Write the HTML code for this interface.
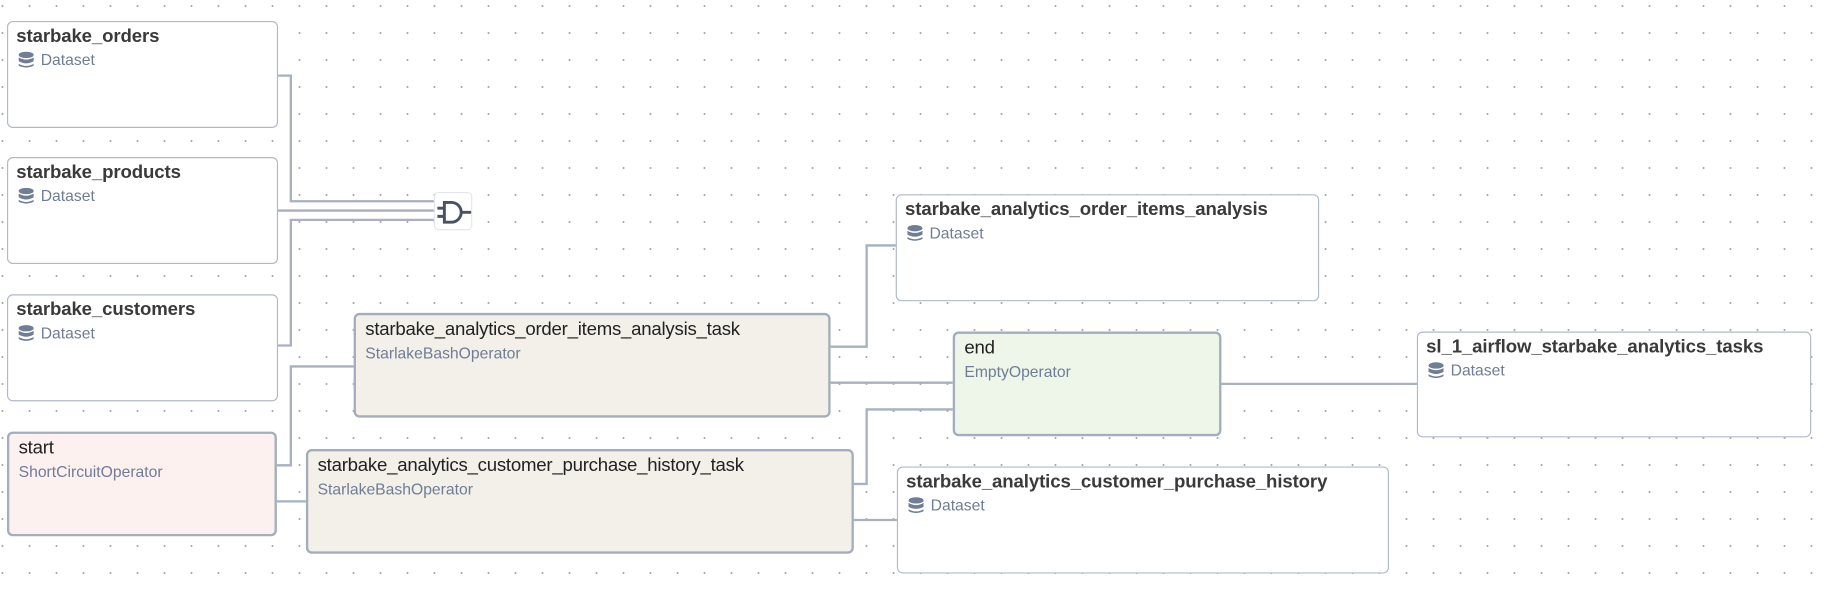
<!DOCTYPE html>
<html><head><meta charset="utf-8"><style>
html,body{margin:0;padding:0;}
body{width:1824px;height:592px;overflow:hidden;background-color:#fff;
background-image:radial-gradient(circle,#a9a9a9 0.8px,transparent 1.2px);
background-size:27px 27px;background-position:-11px -7.5px;position:relative;font-family:"Liberation Sans",Arial,sans-serif;}
#s{position:absolute;left:0;top:0;width:1568px;height:509px;transform:scale(1.16327);transform-origin:0 0;}
.n{position:absolute;box-sizing:border-box;border:1.5px solid #b0b9c9;border-radius:5px;background:#fff;padding:4px 7px;}
.n .t{font-size:16px;font-weight:bold;color:#3a3a3a;line-height:18px;white-space:nowrap;letter-spacing:-0.1px;}
.n .d{font-size:13.5px;color:#6f7d95;line-height:16px;margin-top:3px;white-space:nowrap;}
.n .d svg{vertical-align:-3px;margin:0 6px 0 2px;}
.k{border:2px solid #a3adbd;padding:4px 8px;}
.k .t{font-weight:normal;color:#222;font-size:16px;letter-spacing:-0.2px;}
svg.e{position:absolute;left:0;top:0;}
</style></head><body><div id="s">
<svg class="e" width="1568" height="509" fill="none" stroke="#a7b1c2" stroke-width="2">
<path d="M239 65H250V173H373"/>
<path d="M239 181H373"/>
<path d="M239 297H250V189H373"/>
<path d="M238 400H250V315H304"/>
<path d="M238 431H263"/>
<path d="M714 298H745V211H770"/>
<path d="M714 329H819"/>
<path d="M734 416H745V352H819"/>
<path d="M734 447H771"/>
<path d="M1050 330H1218"/>
</svg>
<div style="position:absolute;left:373px;top:165px;width:33px;height:33px;box-sizing:border-box;border:1px solid #e3e6ec;border-radius:4px;background:#fff">
<svg width="33" height="33" viewBox="0 0 33 33" fill="none" stroke="#4a5163" stroke-width="2.5"><path d="M8 8H14A8.5 8.5 0 0 1 14 25H8Z"/><path d="M2 13H8M2 20H8M22.5 16.5H31"/></svg></div>
<div class="n" style="left:6px;top:18px;width:233px;height:92px"><div class="t">starbake_orders</div><div class="d"><svg width="13" height="15" viewBox="0 0 12 13" fill="#6f7d95"><ellipse cx="6" cy="2.5" rx="6" ry="2.5"/><path d="M0 4.5Q6 8 12 4.5V7.5Q6 11 0 7.5Z"/><path d="M0 9.5Q6 13 12 9.5V11Q6 14 0 11Z"/></svg>Dataset</div></div>
<div class="n" style="left:6px;top:135px;width:233px;height:92px"><div class="t">starbake_products</div><div class="d"><svg width="13" height="15" viewBox="0 0 12 13" fill="#6f7d95"><ellipse cx="6" cy="2.5" rx="6" ry="2.5"/><path d="M0 4.5Q6 8 12 4.5V7.5Q6 11 0 7.5Z"/><path d="M0 9.5Q6 13 12 9.5V11Q6 14 0 11Z"/></svg>Dataset</div></div>
<div class="n" style="left:6px;top:253px;width:233px;height:92px"><div class="t">starbake_customers</div><div class="d"><svg width="13" height="15" viewBox="0 0 12 13" fill="#6f7d95"><ellipse cx="6" cy="2.5" rx="6" ry="2.5"/><path d="M0 4.5Q6 8 12 4.5V7.5Q6 11 0 7.5Z"/><path d="M0 9.5Q6 13 12 9.5V11Q6 14 0 11Z"/></svg>Dataset</div></div>
<div class="n k" style="left:6px;top:371px;width:232px;height:90px;background:#fcf1ef"><div class="t">start</div><div class="d">ShortCircuitOperator</div></div>
<div class="n k" style="left:304px;top:269px;width:410px;height:90px;background:#f3f0e9"><div class="t">starbake_analytics_order_items_analysis_task</div><div class="d">StarlakeBashOperator</div></div>
<div class="n k" style="left:263px;top:386px;width:471px;height:90px;background:#f3f0e9"><div class="t">starbake_analytics_customer_purchase_history_task</div><div class="d">StarlakeBashOperator</div></div>
<div class="n" style="left:770px;top:167px;width:364px;height:92px"><div class="t">starbake_analytics_order_items_analysis</div><div class="d"><svg width="13" height="15" viewBox="0 0 12 13" fill="#6f7d95"><ellipse cx="6" cy="2.5" rx="6" ry="2.5"/><path d="M0 4.5Q6 8 12 4.5V7.5Q6 11 0 7.5Z"/><path d="M0 9.5Q6 13 12 9.5V11Q6 14 0 11Z"/></svg>Dataset</div></div>
<div class="n k" style="left:819px;top:285px;width:231px;height:90px;background:#eef6ea"><div class="t">end</div><div class="d">EmptyOperator</div></div>
<div class="n" style="left:1218px;top:285px;width:339px;height:91px"><div class="t">sl_1_airflow_starbake_analytics_tasks</div><div class="d"><svg width="13" height="15" viewBox="0 0 12 13" fill="#6f7d95"><ellipse cx="6" cy="2.5" rx="6" ry="2.5"/><path d="M0 4.5Q6 8 12 4.5V7.5Q6 11 0 7.5Z"/><path d="M0 9.5Q6 13 12 9.5V11Q6 14 0 11Z"/></svg>Dataset</div></div>
<div class="n" style="left:771px;top:401px;width:423px;height:92px"><div class="t">starbake_analytics_customer_purchase_history</div><div class="d"><svg width="13" height="15" viewBox="0 0 12 13" fill="#6f7d95"><ellipse cx="6" cy="2.5" rx="6" ry="2.5"/><path d="M0 4.5Q6 8 12 4.5V7.5Q6 11 0 7.5Z"/><path d="M0 9.5Q6 13 12 9.5V11Q6 14 0 11Z"/></svg>Dataset</div></div>
</div></body></html>
